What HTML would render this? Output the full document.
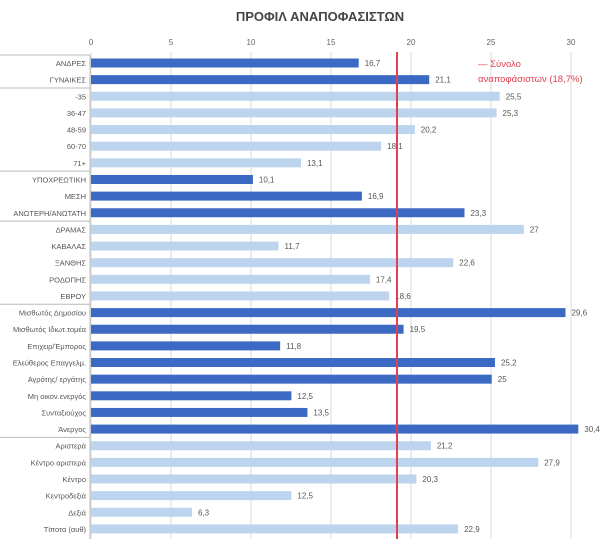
<!DOCTYPE html><html><head><meta charset="utf-8"><style>body{margin:0;background:#fff}</style></head><body>
<svg width="600" height="539" xmlns="http://www.w3.org/2000/svg" font-family="Liberation Sans, DejaVu Sans, sans-serif">
<text x="320" y="21" text-anchor="middle" font-size="13" font-weight="bold" fill="#444">ΠΡΟΦΙΛ ΑΝΑΠΟΦΑΣΙΣΤΩΝ</text>
<g id="grid" stroke="#d9d9d9" stroke-width="1"></g>
<g id="ax" font-size="8" fill="#666" text-anchor="middle"></g>
<g id="bars"></g>
<g stroke="#bbb" stroke-width="1" id="sep"></g>
<line x1="397" y1="52" x2="397" y2="539" stroke="#e04050" stroke-width="2"/>
<text x="478" y="67" font-size="9.5" fill="#e04050">— Σύνολο</text>
<text x="478" y="82" font-size="9.5" fill="#e04050">αναποφάσιστων (18,7%)</text>
<script>
const rows=[["ΑΝΔΡΕΣ",16.7,1],["ΓΥΝΑΙΚΕΣ",21.1,1],["-35",25.5,0],["36-47",25.3,0],["48-59",20.2,0],["60-70",18.1,0],["71+",13.1,0],["ΥΠΟΧΡΕΩΤΙΚΗ",10.1,1],["ΜΕΣΗ",16.9,1],["ΑΝΩΤΕΡΗ/ΑΝΩΤΑΤΗ",23.3,1],["ΔΡΑΜΑΣ",27,0],["ΚΑΒΑΛΑΣ",11.7,0],["ΞΑΝΘΗΣ",22.6,0],["ΡΟΔΟΠΗΣ",17.4,0],["ΕΒΡΟΥ",18.6,0],["Μισθωτός Δημοσίου",29.6,1],["Μισθωτός Ιδιωτ.τομέα",19.5,1],["Επιχειρ/Έμπορος",11.8,1],["Ελεύθερος Επαγγελμ.",25.2,1],["Αγρότης/ εργάτης",25,1],["Μη οικον.ενεργός",12.5,1],["Συνταξιούχος",13.5,1],["Άνεργος",30.4,1],["Αριστερά",21.2,0],["Κέντρο αριστερά",27.9,0],["Κέντρο",20.3,0],["Κεντροδεξιά",12.5,0],["Δεξιά",6.3,0],["Τίποτα (αυθ)",22.9,0]];
const NS="http://www.w3.org/2000/svg",X0=91,S=16,Y0=63,DY=16.64;
function el(p,t,a,txt){const e=document.createElementNS(NS,t);for(const k in a)e.setAttribute(k,a[k]);if(txt!=null)e.textContent=txt;document.getElementById(p).appendChild(e);}
for(let v=0;v<=30;v+=5){const x=X0+v*S;el("grid","line",{x1:x,y1:52,x2:x,y2:539});el("ax","text",{x:x,y:45},v);}
rows.forEach((r,i)=>{const y=Y0+i*DY;const w=r[1]*16.03;
el("bars","rect",{x:X0,y:y-4.5,width:w,height:9,fill:r[2]?"#3c69c3":"#bcd4ee"});
el("bars","text",{x:X0+w+6,y:y+3,"font-size":"8",fill:"#555"},String(r[1]).replace(".",","));
el("bars","text",{x:86,y:y+3,"font-size":"7.5",fill:"#555","text-anchor":"end"},r[0]);});
el("sep","line",{x1:0,y1:55,x2:90,y2:55});el("sep","line",{x1:90,y1:55,x2:90,y2:539});
[1,6,9,14,22].forEach(i=>{const y=Y0+(i+0.5)*DY;el("sep","line",{x1:0,y1:y,x2:90,y2:y});});
</script>
</svg></body></html>
